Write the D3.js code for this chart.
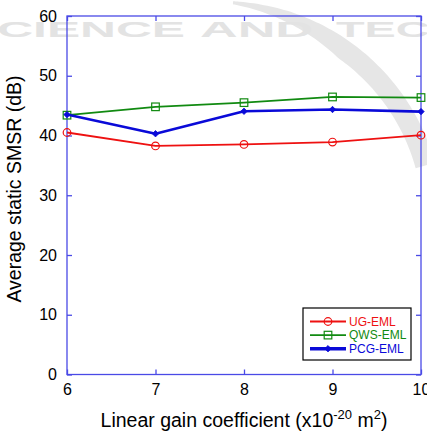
<!DOCTYPE html>
<html>
<head>
<meta charset="utf-8">
<script src="https://cdn.jsdelivr.net/npm/d3@7"></script>
<style>
  html, body { margin: 0; padding: 0; background: #fff; }
  svg { display: block; font-family: Arial, "Liberation Sans", sans-serif; }
</style>
</head>
<body>
<svg id="chart" width="427" height="435"></svg>
<script>
// Linear gain coefficient (x10^-20 m^2)
const gainCoeff = [6, 7, 8, 9, 10];
// Average static SMSR (dB) per laser design
const ugEml  = [40.5, 38.25, 38.5, 38.9, 40.05];
const qwsEml = [43.4, 44.8, 45.5, 46.45, 46.35];
const pcgEml = [43.5, 40.3, 44.05, 44.35, 44.0];
const seriesNames = ["UG-EML", "QWS-EML", "PCG-EML"];
const xTicks = [6, 7, 8, 9, 10];
const yTicks = [0, 10, 20, 30, 40, 50, 60];
const markWords = ["SCIENCE", "AND", "TECHNOLOGY"];

const svg = d3.select("#chart");
const W = 427, H = 435;
const margin = { left: 67, right: 6, top: 16, bottom: 60.5 };

// faint background publisher mark: a tapering swoosh and spaced lettering
const wm = svg.append("g").attr("class", "watermark");
const a0 = 0.05, a1 = 1.3;
const angles = d3.range(0, 41).map(i => a0 + (a1 - a0) * i / 40);
const swoosh = d3.areaRadial()
  .angle(a => a)
  .outerRadius(221)
  .innerRadius(a => 221 - Math.min(20, 3 + 30 * (a - a0)))
  .curve(d3.curveCardinal);
wm.append("path")
  .attr("transform", "translate(222,222)")
  .attr("d", swoosh(angles))
  .attr("fill", "#e6e6e6");
const wordBoxes = [[-36, 221], [200, 113], [336, 330]];
markWords.forEach((w, i) => {
  wm.append("text")
    .attr("x", wordBoxes[i][0]).attr("y", 36.5)
    .attr("font-size", 22).attr("font-weight", "bold")
    .attr("fill", "#e3e3e3")
    .attr("textLength", wordBoxes[i][1]).attr("lengthAdjust", "spacingAndGlyphs")
    .text(w);
});

const x = d3.scaleLinear().domain([6, 10]).range([margin.left, W - margin.right]);
const y = d3.scaleLinear().domain([0, 60]).range([H - margin.bottom, margin.top]);

const axisColor = "#4a4ae6";
const tickLen = 5;

// axis box
svg.append("rect")
  .attr("x", x(6)).attr("y", y(60))
  .attr("width", x(10) - x(6)).attr("height", y(0) - y(60))
  .attr("fill", "none").attr("stroke", axisColor).attr("stroke-width", 1.3);

// inward ticks on all four sides via d3 axes
function styleAxis(g) {
  g.select(".domain").remove();
  g.selectAll(".tick line").attr("stroke", axisColor).attr("stroke-width", 1.3);
  g.selectAll(".tick text").attr("fill", "#000").attr("font-size", 16)
    .attr("font-family", "Arial, 'Liberation Sans', sans-serif");
}
svg.append("g").attr("transform", `translate(0,${y(0)})`)
  .call(d3.axisBottom(x).tickValues(xTicks).tickSize(-tickLen).tickPadding(9).tickFormat(d3.format("d")))
  .call(styleAxis);
svg.append("g").attr("transform", `translate(0,${y(60)})`)
  .call(d3.axisTop(x).tickValues(xTicks).tickSize(-tickLen).tickFormat(""))
  .call(styleAxis);
svg.append("g").attr("transform", `translate(${x(6)},0)`)
  .call(d3.axisLeft(y).tickValues(yTicks).tickSize(-tickLen).tickPadding(10).tickFormat(d3.format("d")))
  .call(styleAxis);
svg.append("g").attr("transform", `translate(${x(10)},0)`)
  .call(d3.axisRight(y).tickValues(yTicks).tickSize(-tickLen).tickFormat(""))
  .call(styleAxis);

// series
const series = [
  { name: seriesNames[0], values: ugEml,  color: "#ee1111", width: 1.8, marker: "circle" },
  { name: seriesNames[1], values: qwsEml, color: "#118a11", width: 1.8, marker: "square" },
  { name: seriesNames[2], values: pcgEml, color: "#0a0ad8", width: 2.6, marker: "diamond" }
];

const line = d3.line().x((d, i) => x(gainCoeff[i])).y(d => y(d));

function drawMarker(g, type, cx, cy, color) {
  if (type === "circle") {
    g.append("circle").attr("cx", cx).attr("cy", cy).attr("r", 3.8)
      .attr("fill", "none").attr("stroke", color).attr("stroke-width", 1.2);
  } else if (type === "square") {
    g.append("rect").attr("x", cx - 3.8).attr("y", cy - 3.8).attr("width", 7.6).attr("height", 7.6)
      .attr("fill", "none").attr("stroke", color).attr("stroke-width", 1.2);
  } else {
    const s = 3.2;
    g.append("path").attr("d", `M${cx},${cy - s}L${cx + s},${cy}L${cx},${cy + s}L${cx - s},${cy}Z`)
      .attr("fill", color).attr("stroke", color).attr("stroke-width", 0.8);
  }
}

series.forEach(s => {
  const g = svg.append("g");
  g.append("path").datum(s.values).attr("d", line)
    .attr("fill", "none").attr("stroke", s.color).attr("stroke-width", s.width)
    .attr("stroke-linejoin", "round");
  s.values.forEach((v, i) => drawMarker(g, s.marker, x(gainCoeff[i]), y(v), s.color));
});

// legend
const lg = svg.append("g");
lg.append("rect").attr("x", 303).attr("y", 308).attr("width", 108).attr("height", 52)
  .attr("fill", "#fff").attr("stroke", "#000").attr("stroke-width", 1.2);
series.forEach((s, i) => {
  const ly = 321.5 + i * 13.6;
  lg.append("line").attr("x1", 310).attr("x2", 346).attr("y1", ly).attr("y2", ly)
    .attr("stroke", s.color).attr("stroke-width", s.width + (i === 2 ? 0.8 : 0));
  drawMarker(lg, s.marker, 328, ly, s.color);
  lg.append("text").attr("x", 349).attr("y", ly + 4.2)
    .attr("font-size", 12).attr("fill", s.color).text(s.name);
});

// axis titles
const xt = svg.append("text")
  .attr("x", (x(6) + x(10)) / 2).attr("y", 427)
  .attr("text-anchor", "middle").attr("font-size", 19.5).attr("fill", "#000");
xt.append("tspan").text("Linear gain coefficient (x10");
xt.append("tspan").attr("dy", -8).attr("font-size", 13).text("-20");
xt.append("tspan").attr("dy", 8).text(" m");
xt.append("tspan").attr("dy", -8).attr("font-size", 13).text("2");
xt.append("tspan").attr("dy", 8).text(")");

svg.append("text")
  .attr("transform", `translate(21,${189}) rotate(-90)`)
  .attr("text-anchor", "middle").attr("font-size", 19.5).attr("fill", "#000")
  .text("Average static SMSR (dB)");
</script>
</body>
</html>
